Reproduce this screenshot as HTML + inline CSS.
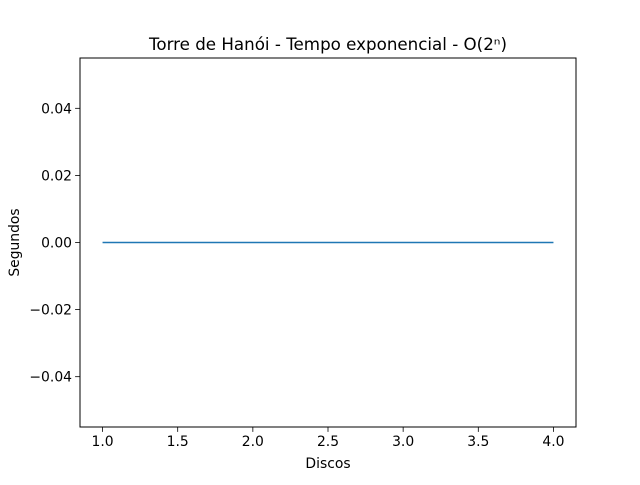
<!DOCTYPE html>
<html><head><meta charset="utf-8"><style>
html,body{margin:0;padding:0;background:#fff;}
svg text{font-family:"DejaVu Sans","Liberation Sans",sans-serif;fill:#000;}
</style></head><body>
<svg id="chart" width="640" height="480" xmlns="http://www.w3.org/2000/svg">
<rect width="640" height="480" fill="#fff"/>
<text x="328" y="50" font-size="16.7" text-anchor="middle">Torre de Hanói - Tempo exponencial - O(2ⁿ)</text>
<text x="328" y="468" font-size="13.9" text-anchor="middle">Discos</text>
<text transform="translate(19,242.5) rotate(-90)" font-size="13.9" text-anchor="middle">Segundos</text>
<g id="ticks"></g>
<g id="marks"></g>
<rect x="80" y="58" width="496" height="369" fill="none" stroke="#000" stroke-width="1"/>
</svg>
<script>
const discos = [1, 2, 3, 4];
const segundos = [0, 0, 0, 0];
const xTicks = [1.0, 1.5, 2.0, 2.5, 3.0, 3.5, 4.0];
const yTicks = [-0.04, -0.02, 0.00, 0.02, 0.04];

const L=80,R=576,T=58,B=427;
const xMin=0.85,xMax=4.15,yMin=-0.055,yMax=0.055;
const xs=v=>L+(v-xMin)/(xMax-xMin)*(R-L);
const ys=v=>B-(v-yMin)/(yMax-yMin)*(B-T);
const NS="http://www.w3.org/2000/svg";
const tg=document.getElementById('ticks');
function el(tag,attrs,parent){const e=document.createElementNS(NS,tag);for(const k in attrs)e.setAttribute(k,attrs[k]);parent.appendChild(e);return e;}
xTicks.forEach(t=>{
  const x=xs(t);
  const l=el('line',{x1:x,x2:x,y1:B,y2:B+4.9,stroke:'#000','stroke-width':0.8},tg);
  
  
  const tx=el('text',{x:x,y:B+19,'font-size':13.9,'text-anchor':'middle'},tg);
  tx.textContent=t.toFixed(1);
  
  
});
yTicks.forEach(t=>{
  const y=ys(t);
  const l=el('line',{x1:L-4.9,x2:L,y1:y,y2:y,stroke:'#000','stroke-width':0.8},tg);
  
  
  const tx=el('text',{x:L-8,y:y+5,'font-size':13.9,'text-anchor':'end'},tg);
  tx.textContent=(t<0?'\u2212':'')+Math.abs(t).toFixed(2);
  
  
});
const pts=discos.map((d,i)=>xs(d)+','+ys(segundos[i])).join(' ');
const line=el('polyline',{points:pts,fill:'none',stroke:'#1f77b4','stroke-width':1.5},document.getElementById('marks'));


</script>
</body></html>
